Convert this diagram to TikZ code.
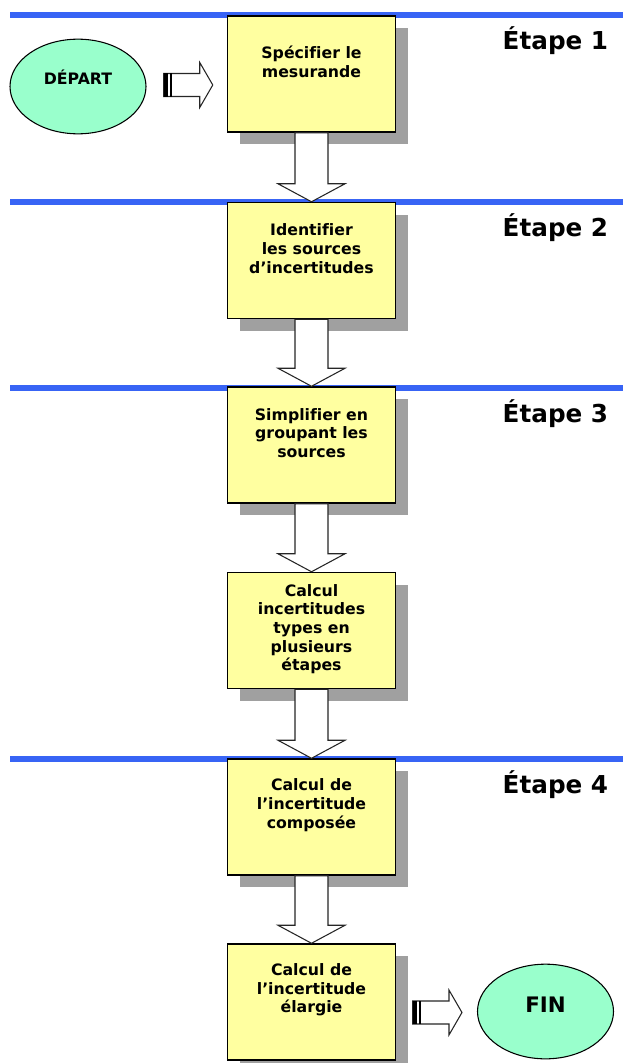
\documentclass[tikz,border=0pt]{standalone}
\usepackage{fontspec}
\setmainfont{DejaVu Sans}[Ligatures=NoCommon]
\usetikzlibrary{shapes.geometric, shadows, calc}
\definecolor{stepblue}{RGB}{56,100,245}
\definecolor{boxyellow}{RGB}{255,255,160}
\definecolor{endgreen}{RGB}{153,255,204}
\definecolor{shadowgrey}{RGB}{160,160,160}

\newcommand{\rightblock}[2]{%
  \draw[arrowline] ($(#1)+(0,-11.5)$) -- ($(#2)+(-13,-11.5)$) -- ($(#2)+(-13,-22.5)$) -- (#2)
    -- ($(#2)+(-13,22.5)$) -- ($(#2)+(-13,11.5)$) -- ($(#1)+(0,11.5)$) -- cycle;
  \fill ($(#1)+(0,-11.5)$) rectangle ($(#1)+(4,11.5)$);
  \fill ($(#1)+(6,-11.5)$) rectangle ($(#1)+(8,11.5)$);}

\begin{document}
\begin{tikzpicture}[x=0.75pt, y=-0.75pt,
    stepbox/.style={draw, line width=1.1pt, fill=boxyellow, minimum width=126pt, minimum height=87pt, inner sep=0pt,
      drop shadow={shadow xshift=9pt, shadow yshift=-9pt, fill=shadowgrey, opacity=1}},
    steptext/.style={font=\fontsize{11.8}{14}\selectfont\bfseries, align=center},
    endpoint/.style={draw, ellipse, fill=endgreen, line width=0.8pt, minimum width=102pt, minimum height=71pt},
    stepline/.style={stepblue, line width=4.5pt},
    steplabel/.style={font=\fontsize{18.5}{22}\selectfont\bfseries, anchor=base west},
    arrowline/.style={draw=black!85, line width=0.8pt, fill=white},
    bigdown/.style={arrowline, to path={($(\tikztostart)+(-16.5,0)$) -- ($(\tikztotarget)+(-16.5,-18)$)
      -- ($(\tikztotarget)+(-33.5,-18)$) -- (\tikztotarget) -- ($(\tikztotarget)+(33.5,-18)$)
      -- ($(\tikztotarget)+(16.5,-18)$) -- ($(\tikztostart)+(16.5,0)$) -- cycle}}]
    \useasboundingbox (0,0) rectangle (623,1063);

    \draw[stepline] (10,15.5) -- (623,15.5);
    \draw[stepline] (10,202) -- (623,202);
    \draw[stepline] (10,388) -- (623,388);
    \draw[stepline] (10,758.5) -- (623,758.5);

    \node[steplabel] (e1) at (498,50) {Étape 1};
    \node[steplabel] (e2) at (498,236.5) {Étape 2};
    \node[steplabel] (e3) at (498,422.5) {Étape 3};
    \node[steplabel] (e4) at (498,793) {Étape 4};

    \node[stepbox] (b1) at (311.5,74) {};
    \node[stepbox] (b2) at (311.5,260.5) {};
    \node[stepbox] (b3) at (311.5,445) {};
    \node[stepbox] (b4) at (311.5,630.5) {};
    \node[stepbox] (b5) at (311.5,817) {};
    \node[stepbox] (b6) at (311.5,1002) {};

    \node[endpoint] (dep) at (78,86.5) {};
    \node[endpoint] (fin) at (545.5,1011.5) {};

    \path[bigdown] (b1.south) to (b2.north);
    \path[bigdown] (b2.south) to (b3.north);
    \path[bigdown] (b3.south) to (b4.north);
    \path[bigdown] (b4.south) to (b5.north);
    \path[bigdown] (b5.south) to (b6.north);

    \coordinate (tail1) at ($(dep.east)+(17,-1.5)$);
    \coordinate (tip1) at ($(tail1 -| b1.west)+(-14,0)$);
    \rightblock{tail1}{tip1}
    \coordinate (tail2) at ($(fin.west -| b6.east)+(16.5,1)$);
    \coordinate (tip2) at ($(fin.west)+(-15,1)$);
    \rightblock{tail2}{tip2}

    \node[steptext] (t1) at ([yshift=9pt]b1.center) {Spécifier le\\mesurande};
    \node[steptext] (t2) at ([yshift=9pt]b2.center) {Identifier\\les sources\\d’incertitudes};
    \node[steptext] (t3) at ([yshift=9pt]b3.center) {Simplifier en\\groupant les\\sources};
    \node[steptext] (t4) at ([yshift=1pt]b4.center) {Calcul\\incertitudes\\types en\\plusieurs\\étapes};
    \node[steptext] (t5) at ([yshift=9pt]b5.center) {Calcul de\\l’incertitude\\composée};
    \node[steptext] (t6) at ([yshift=9pt]b6.center) {Calcul de\\l’incertitude\\élargie};
    \node[steptext] (td) at ([yshift=7pt]dep.center) {DÉPART};
    \node[font=\fontsize{16}{19}\selectfont\bfseries] (tf) at ([yshift=5pt]fin.center) {FIN};
\end{tikzpicture}
\end{document}
